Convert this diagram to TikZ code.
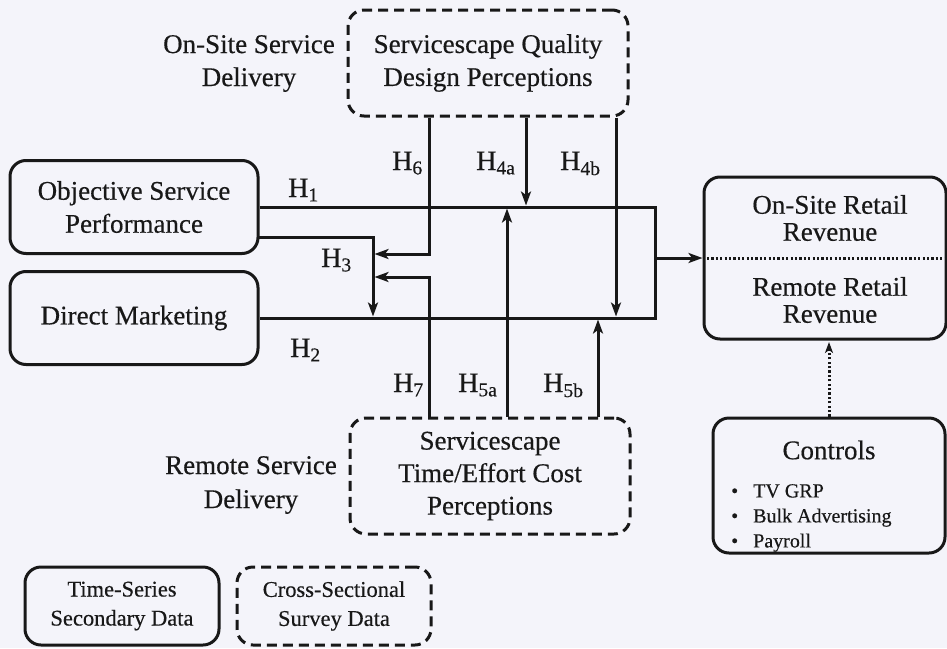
\documentclass[tikz,border=0pt]{standalone}
\usepackage{fontspec}
\setmainfont{Liberation Serif}[FakeBold=0.4]
\usetikzlibrary{arrows.meta}
\definecolor{bgc}{RGB}{244,244,250}
\definecolor{ink}{RGB}{24,24,24}
\newcommand\Hsub[1]{H\textsubscript{#1}}
\begin{document}
\begin{tikzpicture}[x=1pt,y=-1pt,
  box/.style={draw=ink, line width=3pt, rounded corners=16pt, align=center, inner sep=0pt, text=ink},
  dashbox/.style={box, dash pattern=on 10pt off 6pt},
  big/.style={font=\fontsize{27}{33}\selectfont},
  leg/.style={font=\fontsize{22.5}{29}\selectfont},
  txt/.style={align=center, inner sep=0pt, text=ink},
  conn/.style={draw=ink, line width=3pt},
  arr/.style={conn, -{Stealth[length=14pt,width=10pt,inset=3.5pt]}},
  dotl/.style={draw=ink, line width=3pt, dash pattern=on 2.2pt off 2.2pt},
  hl/.style={font=\fontsize{28}{30}\selectfont, anchor=base west, inner sep=0pt, text=ink},
]
\useasboundingbox (0,0) rectangle (947,648);
\fill[bgc] (0,0) rectangle (947,648);

% boxes
\node[box, big, minimum width=248pt, minimum height=93pt] (osp) at (134,207) {Objective Service\\Performance};
\node[box, big, minimum width=248pt, minimum height=93pt] (dm) at (134,318) {Direct Marketing};
\node[dashbox, big, minimum width=280pt, minimum height=106pt] (top) at (488,63) {Servicescape Quality\\Design Perceptions};
\node[dashbox, big, font=\fontsize{27}{32.5}\selectfont, minimum width=280pt, minimum height=116pt] (bot) at (490,476) {Servicescape\\Time/Effort Cost\\Perceptions};
\node[box, minimum width=242pt, minimum height=162pt] (rev) at (825,258) {};
\node[box, minimum width=232pt, minimum height=135pt] (ctrl) at (829,485.5) {};
\node[box, leg, minimum width=194pt, minimum height=78pt] (lsolid) at (122,606) {Time-Series\\Secondary Data};
\node[dashbox, leg, minimum width=194pt, minimum height=78pt] (ldash) at (334,606) {Cross-Sectional\\Survey Data};

% side labels
\node[txt, big] (onsite) at (249,63.5) {On-Site Service\\Delivery};
\node[txt, font=\fontsize{27}{34}\selectfont] (remote) at (251,485) {Remote Service\\Delivery};

% revenue labels
\node[txt, font=\fontsize{27}{27}\selectfont] (revtop) at (830,218) {On-Site Retail\\Revenue};
\node[txt, font=\fontsize{27}{27}\selectfont] (revbot) at (830,300) {Remote Retail\\Revenue};
\draw[dotl] (rev.west) -- (947,258);

% controls
\node[txt, big] (ctitle) at (829,450) {Controls};
\node[txt, font=\fontsize{20}{25}\selectfont, align=left, anchor=north west] (clist) at (731,484)
  {\textbullet\hspace{15pt}TV GRP\\\textbullet\hspace{15pt}Bulk Advertising\\\textbullet\hspace{15pt}Payroll};

% coordinates
\coordinate (j1) at (655,207);
\coordinate (j2) at (655,318);
\coordinate (jm) at (655,258);
\coordinate (x3) at (373,0);
\coordinate (x6) at (429,0);
\coordinate (x4a) at (526,0);
\coordinate (x4b) at (616,0);
\coordinate (x5a) at (507,0);
\coordinate (x5b) at (598,0);
\coordinate (h3s) at (258,237);
\coordinate (y6) at (0,254);
\coordinate (y7) at (0,277);

% main paths
\draw[conn] (osp.east) -- (j1) -- (j2) -- (dm.east);
\draw[arr] (jm) -- (rev.west);
\draw[arr, shorten >=1.5pt] (h3s) -| (x3 |- j2);
\draw[arr, shorten >=1.5pt] (top.south -| x6) |- (x3 |- y6);
\draw[arr, shorten >=1.5pt] (bot.north -| x6) |- (x3 |- y7);
\draw[arr, shorten >=1.5pt] (top.south -| x4a) -- (x4a |- j1);
\draw[arr, shorten >=1.5pt] (top.south -| x4b) -- (x4b |- j2);
\draw[arr, shorten >=1.5pt] (bot.north -| x5a) -- (x5a |- j1);
\draw[arr, shorten >=1.5pt] (bot.north -| x5b) -- (x5b |- j2);
\draw[dotl, -{Stealth[length=11pt,width=8pt,inset=3pt]}, shorten >=1.5pt] (ctrl.north) -- (ctrl.north |- rev.south);

% hypothesis labels
\node[hl] (h1) at (288,197) {\Hsub{1}};
\node[hl] (h2) at (290,357) {\Hsub{2}};
\node[hl] (h3) at (321,267) {\Hsub{3}};
\node[hl] (h6) at (392,170) {\Hsub{6}};
\node[hl] (h4a) at (476,170) {\Hsub{4a}};
\node[hl] (h4b) at (560,170) {\Hsub{4b}};
\node[hl] (h7) at (393,392) {\Hsub{7}};
\node[hl] (h5a) at (458,392) {\Hsub{5a}};
\node[hl] (h5b) at (543,392) {\Hsub{5b}};
\end{tikzpicture}
\end{document}
